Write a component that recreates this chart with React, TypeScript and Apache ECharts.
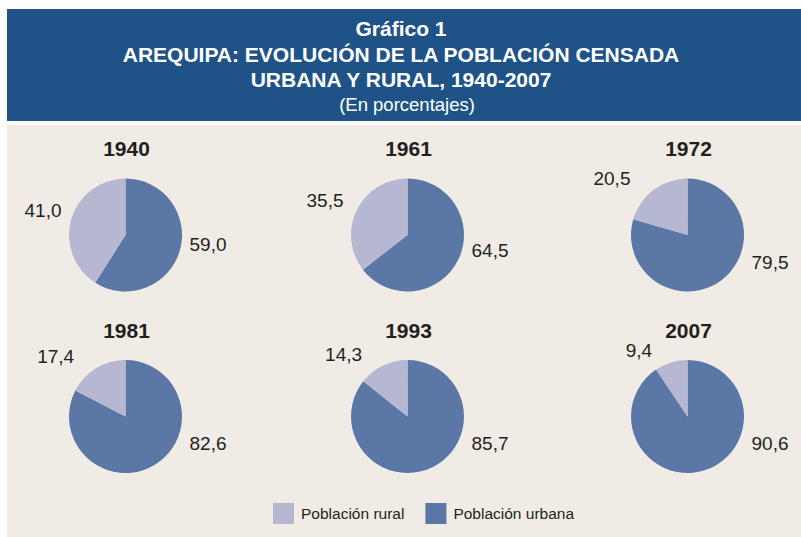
import React, { useEffect, useRef } from 'react';
import * as echarts from 'echarts';

const years = ['1940', '1961', '1972', '1981', '1993', '2007'];
const urbana = [59.0, 64.5, 79.5, 82.6, 85.7, 90.6];
const rural = [41.0, 35.5, 20.5, 17.4, 14.3, 9.4];
const nameUrbana = 'Población urbana';
const nameRural = 'Población rural';
const titleLines = ['Gráfico 1', 'AREQUIPA: EVOLUCIÓN DE LA POBLACIÓN CENSADA', 'URBANA Y RURAL, 1940-2007'];
const subtitle = '(En porcentajes)';

const FONT = '"Liberation Sans", Arial, Helvetica, sans-serif';
const C_URB = '#5a77a5';
const C_RUR = '#b6b7d0';
const C_HEAD = '#1f5388';
const C_BG = '#f0ece5';
const C_TXT = '#231f20';

const W = 801;
const H = 537;
const COLS = [125.5, 407.5, 687.5];
const ROWS = [235, 416.5];
const RADIUS = 56.5;

const centerOf = (i: number): [number, number] => [COLS[i % 3], ROWS[Math.floor(i / 3)]];
const fmt = (v: number) => v.toFixed(1).replace('.', ',');

export default function App() {
  const ref = useRef<HTMLDivElement>(null);
  useEffect(() => {
    if (!ref.current) return;
    const chart = echarts.init(ref.current, undefined, { renderer: 'svg' });

    const series = years.map((y, i) => ({
      type: 'pie',
      name: y,
      center: centerOf(i),
      radius: RADIUS,
      startAngle: 90,
      clockwise: true,
      silent: true,
      label: {
        show: true,
        position: 'outside',
        formatter: (p: any) => fmt(p.value),
        fontFamily: FONT,
        fontSize: 19,
        color: C_TXT,
        overflow: 'none',
        width: 80,
      },
      labelLine: { show: false },
      labelLayout: (p: any) => {
        const idx = p.seriesIndex;
        const [cx, cy] = centerOf(idx);
        const u = urbana[idx] / (urbana[idx] + rural[idx]);
        if (p.dataIndex === 0) {
          const mid = u * 180;
          const dy = Math.min(27, 0.6 * (mid - 90));
          return { x: cx + 64, y: cy + dy, align: 'left', verticalAlign: 'middle' };
        }
        const mid = ((u + (1 - u) / 2) * 360 * Math.PI) / 180;
        const s = Math.sin(mid);
        const dx = Math.max(-64, 70 * s - 15);
        const dy = -68 * Math.cos(mid) - 6 * s * s;
        return { x: cx + dx, y: cy + dy, align: 'right', verticalAlign: 'middle' };
      },
      data: [
        { name: nameUrbana, value: urbana[i], itemStyle: { color: C_URB } },
        { name: nameRural, value: rural[i], itemStyle: { color: C_RUR } },
      ],
    }));

    const graphics: any[] = [
      { type: 'rect', z: -10, shape: { x: 7, y: 9, width: W - 7, height: 112 }, style: { fill: C_HEAD } },
      { type: 'rect', z: -10, shape: { x: 7, y: 125, width: W - 7, height: H - 125 }, style: { fill: C_BG } },
    ];
    const lineY = [28, 54.5, 79.5];
    titleLines.forEach((t, k) => {
      graphics.push({
        type: 'text', z: 5, x: 401, y: lineY[k],
        style: { text: t, fill: '#ffffff', font: `bold 21px ${FONT}`, align: 'center', verticalAlign: 'middle' },
      });
    });
    graphics.push({
      type: 'text', z: 5, x: 407, y: 104,
      style: { text: subtitle, fill: '#ffffff', font: `18.5px ${FONT}`, align: 'center', verticalAlign: 'middle' },
    });
    years.forEach((y, i) => {
      const [cx, cy] = centerOf(i);
      graphics.push({
        type: 'text', z: 5, x: cx + 1, y: cy - 86.5,
        style: { text: y, fill: C_TXT, font: `bold 21px ${FONT}`, align: 'center', verticalAlign: 'middle' },
      });
    });

    chart.setOption({
      animation: false,
      backgroundColor: '#ffffff',
      textStyle: { fontFamily: FONT },
      graphic: { elements: graphics },
      legend: {
        data: [nameRural, nameUrbana],
        left: 268,
        top: 498,
        icon: 'rect',
        itemWidth: 21,
        itemHeight: 21,
        itemGap: 21,
        selectedMode: false,
        textStyle: { fontFamily: FONT, fontSize: 15.5, color: C_TXT, padding: [0, 0, 0, 2] },
      },
      series,
    });
    return () => chart.dispose();
  }, []);
  return <div ref={ref} style={{ position: 'absolute', left: 0, top: 0, width: W, height: H }} />;
}
